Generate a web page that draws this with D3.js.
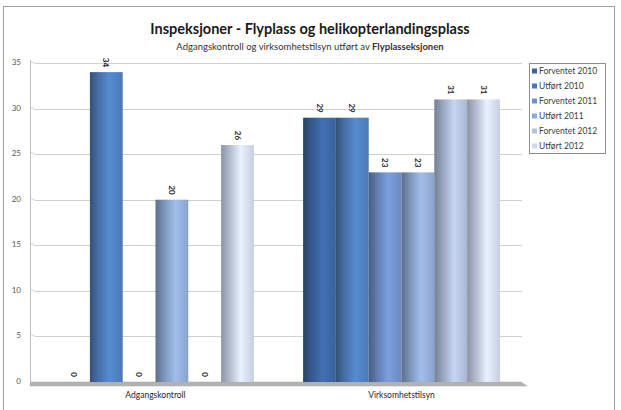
<!DOCTYPE html>
<html><head><meta charset="utf-8">
<script src="https://cdn.jsdelivr.net/npm/d3@7"></script>
<style>
html,body{margin:0;padding:0;background:#fff;}
svg{display:block;font-family:Lato, "Open Sans", sans-serif;}
</style></head>
<body><svg id="chart" width="621" height="410"></svg>
<script>
const categories = ["Adgangskontroll", "Virksomhetstilsyn"];
const seriesNames = ["Forventet 2010", "Utført 2010", "Forventet 2011", "Utført 2011", "Forventet 2012", "Utført 2012"];
const forventet2010 = [0, 29];
const utfort2010 = [34, 29];
const forventet2011 = [0, 23];
const utfort2011 = [20, 23];
const forventet2012 = [0, 31];
const utfort2012 = [26, 31];
const seriesValues = [forventet2010, utfort2010, forventet2011, utfort2011, forventet2012, utfort2012];
const yTicks = [0, 5, 10, 15, 20, 25, 30, 35];
const seriesColors = ["#3b66a3", "#4f80c0", "#7192cc", "#93aed8", "#b5c3de", "#d5ddf0"];
const legendColors = ["#3a64a0", "#4a78b8", "#6f8fc8", "#8fa9d6", "#b4c3dd", "#d0d8ec"];

const svg = d3.select("#chart");
const defs = svg.append("defs");

// outer frame
svg.append("rect").attr("x", 3.5).attr("y", 6.5).attr("width", 611).attr("height", 410)
  .attr("fill", "#fff").attr("stroke", "#a0a0a0").attr("stroke-width", 1);

// titles
svg.append("text").attr("x", 310).attr("y", 34).attr("text-anchor", "middle")
  .attr("font-size", 14.5).attr("font-weight", "bold").attr("fill", "#1a1a1a")
  .text("Inspeksjoner - Flyplass og helikopterlandingsplass");
const sub = svg.append("text").attr("x", 310).attr("y", 50).attr("text-anchor", "middle")
  .attr("font-size", 9.5).attr("fill", "#333");
sub.append("tspan").text("Adgangskontroll og virksomhetstilsyn utført av ");
sub.append("tspan").attr("font-weight", "bold").text("Flyplasseksjonen");

const y = d3.scaleLinear().domain([0, 35]).range([382, 63]);
const x0 = d3.scaleBand().domain(categories).range([32.5, 524.5]).paddingInner(0.2).paddingOuter(0.1);
const x1 = d3.scaleBand().domain(seriesNames).range([0, x0.bandwidth()]);

// left wall line
svg.append("line").attr("x1", 30.5).attr("x2", 30.5).attr("y1", y(35) - 3).attr("y2", y(0) + 3)
  .attr("stroke", "#bfbfbf");

// gridlines with slanted wall ticks
const grid = svg.append("g");
yTicks.forEach(t => {
  if (t === 0) return;
  const yy = Math.round(y(t)) + 0.5;
  grid.append("path").attr("d", `M30,${yy - 3} L35,${yy} L522,${yy}`)
    .attr("fill", "none").attr("stroke", "#d0d0d0").attr("stroke-width", 1);
});
// y tick labels
svg.append("g").selectAll("text").data(yTicks).join("text")
  .attr("x", 21).attr("y", d => y(d) + 2).attr("text-anchor", "end")
  .attr("font-size", 8).attr("fill", "#595959").text(d => d);

// floor
const fy = y(0);
svg.append("path").attr("d", `M31,${fy} L521,${fy} L527,${fy + 4} L30,${fy + 4} Z`)
  .attr("fill", "#b3b3b3").attr("stroke", "#a0a0a0").attr("stroke-width", 0.5);

// gradients
seriesColors.forEach((c, i) => {
  const g = defs.append("linearGradient").attr("id", "g" + i).attr("x1", 0).attr("x2", 1).attr("y1", 0).attr("y2", 0);
  const dark = d3.interpolateRgb(c, "#1c2633")(0.55 - i * 0.03);
  g.append("stop").attr("offset", 0).attr("stop-color", dark);
  g.append("stop").attr("offset", 0.25).attr("stop-color", d3.interpolateRgb(c, "#1c2633")(0.2));
  g.append("stop").attr("offset", 0.6).attr("stop-color", d3.color(c).brighter(0.25));
  g.append("stop").attr("offset", 1).attr("stop-color", d3.interpolateRgb(c, "#1c2633")(0.08));
});

// bars
const groups = svg.append("g").selectAll("g").data(categories).join("g")
  .attr("transform", d => `translate(${x0(d)},0)`);
groups.each(function(cat, ci) {
  const g = d3.select(this);
  seriesNames.forEach((s, si) => {
    const v = seriesValues[si][ci];
    const bx = x1(s);
    if (v > 0) {
      g.append("rect").attr("x", bx).attr("y", y(v)).attr("width", x1.bandwidth())
        .attr("height", y(0) - y(v)).attr("fill", `url(#g${si})`);
    }
    const cx = bx + x1.bandwidth() / 2;
    const ly = y(v) - 5;
    g.append("text").attr("transform", `translate(${cx},${ly}) rotate(90)`)
      .attr("text-anchor", "end").attr("dy", "0.35em")
      .attr("font-size", 8).attr("font-weight", "bold").attr("fill", "#262626").text(v);
  });
});

// category labels
svg.append("g").selectAll("text").data(categories).join("text")
  .attr("x", d => x0(d) + x0.bandwidth() / 2).attr("y", 398).attr("text-anchor", "middle")
  .attr("font-size", 8.5).attr("fill", "#262626").text(d => d);

// legend
const lg = svg.append("g");
lg.append("rect").attr("x", 529.5).attr("y", 63.5).attr("width", 76).attr("height", 90)
  .attr("fill", "#fff").attr("stroke", "#8c8c8c");
seriesNames.forEach((s, i) => {
  const ly = 71 + i * 15;
  lg.append("rect").attr("x", 532).attr("y", ly - 2.5).attr("width", 5).attr("height", 5).attr("fill", legendColors[i]);
  lg.append("text").attr("x", 539).attr("y", ly + 3).attr("font-size", 8.5).attr("fill", "#404040").text(s);
});
</script></body></html>
